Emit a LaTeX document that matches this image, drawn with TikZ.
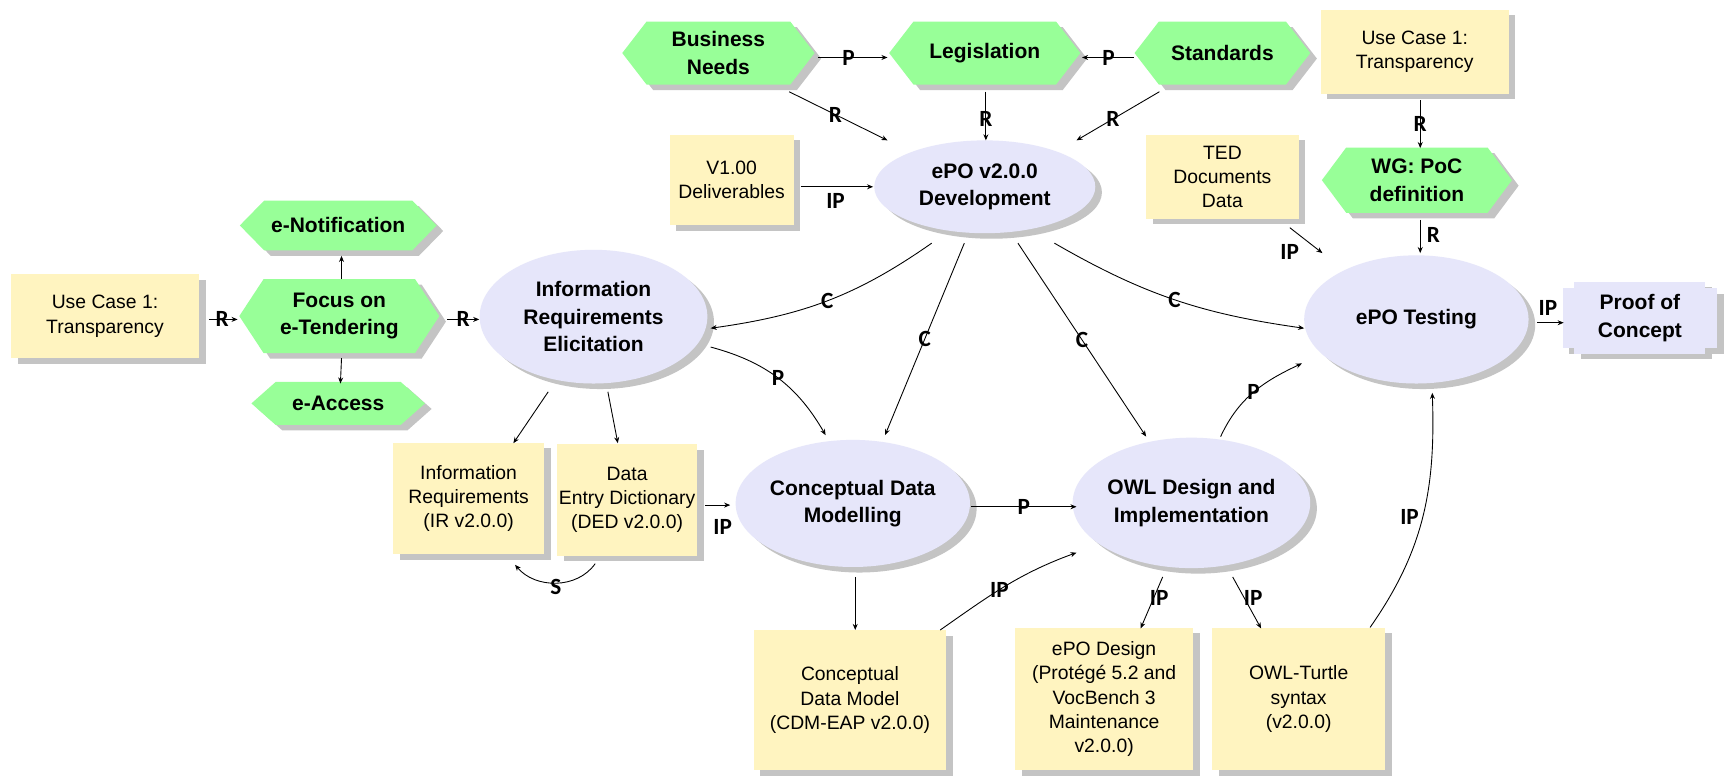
\documentclass[tikz,border=0pt]{standalone}
\usepackage{fontspec}
\setmainfont{Liberation Sans}
\newfontfamily\lblfont{Carlito}
\usetikzlibrary{shapes.geometric,shadows,arrows.meta,calc}
\definecolor{docyellow}{HTML}{FFF4C0}
\definecolor{evgreen}{HTML}{98FF98}
\definecolor{fnblue}{HTML}{E6E6FA}
\definecolor{shadowc}{HTML}{C4C4C4}
\tikzset{
  shad/.style={drop shadow={shadow xshift=6pt,shadow yshift=-5pt,opacity=1,fill=shadowc}},
  docbox/.style={rectangle,fill=docyellow,shad,inner sep=1pt,align=center,font=\fontsize{17.5pt}{22pt}\selectfont},
  fnell/.style={ellipse,fill=fnblue,shad,inner sep=0pt,align=center,font=\fontsize{19pt}{25pt}\selectfont\bfseries},
  hexlabel/.style={rectangle,inner sep=0pt,align=center,font=\fontsize{19pt}{25pt}\selectfont\bfseries},
  hexfill/.style={fill=evgreen},
  hexshade/.style={fill=shadowc},
  pocfill/.style={fill=fnblue},
  conn/.style={draw=black,line width=0.8pt,-{Stealth[length=5.5pt,width=4.5pt]}},
  lbl/.style={font=\lblfont\bfseries\fontsize{21pt}{21pt}\selectfont,inner sep=0pt},
}
\newcommand\hexpathdraw[3]{%
  \fill[#1,shift={(#2,#3)}] (\hxl,\hcy) -- ({\hxl+22},\hyt) -- ({\hxr-22},\hyt) -- (\hxr,\hcy) -- ({\hxr-22},\hyb) -- ({\hxl+22},\hyb) -- cycle;%
}
\newcommand\hexnode[6]{%
  \pgfmathsetmacro\hxl{#2-#4/2}%
  \pgfmathsetmacro\hxr{#2+#4/2}%
  \pgfmathsetmacro\hyt{#3-#5/2}%
  \pgfmathsetmacro\hyb{#3+#5/2}%
  \pgfmathsetmacro\hcy{#3}%
  \hexpathdraw{hexshade}{6}{5}%
  \hexpathdraw{hexfill}{0}{0}%
  \node[hexlabel,minimum width=#4pt,minimum height=#5pt] (#1) at (#2,#3) {#6};%
}
\begin{document}
\begin{tikzpicture}[x=1pt,y=-1pt]
\fill[white] (0,0) rectangle (1568,704.8);
\useasboundingbox (0,0) rectangle (1568,704.8);

% ---- hexagons (events)
\hexnode{bn}{650}{48}{174}{57}{Business\\Needs}
\hexnode{leg}{891}{48}{173}{57}{Legislation}
\hexnode{std}{1106}{48}{159}{57}{Standards}
\hexnode{wg}{1282}{163}{172}{59}{WG: PoC\\definition}
\hexnode{enot}{306}{204}{178}{45}{e-Notification}
\hexnode{focus}{307}{286}{181}{67}{Focus on\\e-Tendering}
\hexnode{eacc}{306}{365}{157}{39}{e-Access}

% ---- documents
\node[docbox,minimum width=170pt,minimum height=76pt] (ucl) at (95,286) {Use Case 1:\\Transparency};
\node[docbox,minimum width=170pt,minimum height=76pt] (uct) at (1280,47) {Use Case 1:\\Transparency};
\node[docbox,minimum width=112pt,minimum height=82pt] (v1) at (662,163) {V1.00\\Deliverables};
\node[docbox,minimum width=138pt,minimum height=76pt] (ted) at (1106,160) {TED\\Documents\\Data};
\node[docbox,minimum width=137pt,minimum height=101pt] (irbox) at (424,451) {Information\\Requirements\\(IR v2.0.0)};
\node[docbox,minimum width=127pt,minimum height=101pt] (ded) at (567.4,452.4) {Data\\Entry Dictionary\\(DED v2.0.0)};
\node[docbox,minimum width=174pt,minimum height=127pt] (cdmbox) at (769,633.5) {Conceptual\\Data Model\\(CDM-EAP v2.0.0)};
\node[docbox,minimum width=161pt,minimum height=129pt] (epod) at (999,632.5) {ePO Design\\(Protégé 5.2 and\\VocBench 3\\Maintenance\\v2.0.0)};
\node[docbox,minimum width=157pt,minimum height=129pt] (ttl) at (1175,632.5) {OWL-Turtle\\syntax\\(v2.0.0)};

% ---- functions
\node[fnell,minimum width=206pt,minimum height=121pt] (ire) at (537,286.5) {Information\\Requirements\\Elicitation};
\node[fnell,minimum width=200pt,minimum height=84pt] (epo) at (891,169) {ePO v2.0.0\\Development};
\node[fnell,minimum width=203pt,minimum height=116pt] (tst) at (1281.5,289) {ePO Testing};
\node[fnell,minimum width=204pt,minimum height=115pt] (cdm) at (771.6,455.5) {Conceptual Data\\Modelling};
\node[fnell,minimum width=204pt,minimum height=118pt] (owl) at (1078,455) {OWL Design and\\Implementation};

% ---- product
\fill[shadowc] (1430,260) rectangle (1549,325);
\fill[shadowc] (1420,266) rectangle (1559.6,320);
\fill[pocfill] (1424,255) rectangle (1543,320);
\fill[pocfill] (1414,261) rectangle (1553.6,315);
\node[hexlabel,minimum width=139.6pt,minimum height=65pt] (poc) at (1483.8,287.5) {Proof of\\Concept};

% ---- connectors
\draw[conn] ($(ucl)+(94,3)$) -- node[lbl,pos=.46]{R} ($(focus)+(-92,3)$);
\draw[conn] ($(focus)+(97.6,3)$) -- node[lbl,pos=.5]{R} ($(ire)+(-103.4,2.5)$);
\draw[conn] ($(focus)+(2,-34)$) -- ($(enot)+(3,27.5)$);
\draw[conn] ($(focus)+(2,38)$) -- ($(eacc)+(2,-18)$);
\draw[conn] ($(bn)+(90,4)$) -- node[lbl,pos=.44]{P} ($(leg)+(-88,4)$);
\draw[conn] ($(std)+(-80,4)$) -- node[lbl,pos=.49]{P} ($(leg)+(88,4)$);
\draw[conn] ($(bn)+(64,35)$) -- node[lbl,pos=.47]{R} ($(epo)+(-88,-42)$);
\draw[conn] ($(leg)+(1,35)$) -- node[lbl,pos=.55]{R} ($(epo)+(1,-42)$);
\draw[conn] ($(std)+(-57,35)$) -- node[lbl,pos=.56]{R} ($(epo)+(83,-42)$);
\draw[conn] ($(v1)+(62.6,6)$) -- node[lbl,pos=.48,yshift=-12.5pt]{IP} ($(epo)+(-101,0)$);
\draw[conn] ($(uct)+(5,43.5)$) -- node[lbl,pos=.49]{R} ($(wg)+(3,-29)$);
\draw[conn] ($(wg)+(3,36)$) -- node[lbl,pos=.45,xshift=12pt]{R} ($(tst)+(3.5,-60)$);
\draw[conn] ($(ted)+(61,46)$) -- node[lbl,pos=.4,xshift=-12pt,yshift=-13pt]{IP} ($(tst)+(-85,-60)$);
\draw[conn] ($(tst)+(109.5,3)$) -- node[lbl,pos=.4,yshift=13pt]{IP} ($(poc)+(-69,4.5)$);
\draw[conn] ($(epo)+(-48,51)$) to[out=215,in=8] node[lbl,pos=.5]{C} ($(ire)+(106,10.5)$);
\draw[conn] ($(epo)+(-18.5,51)$) -- node[lbl,pos=.5]{C} ($(cdm)+(29.2,-61.8)$);
\draw[conn] ($(epo)+(30,51)$) -- node[lbl,pos=.5]{C} ($(owl)+(-41,-60)$);
\draw[conn] ($(epo)+(63,51)$) to[out=-30,in=172] node[lbl,pos=.5]{C} ($(tst)+(-101.5,8)$);
\draw[conn] ($(ire)+(106,27.5)$) to[out=-15,in=120] node[lbl,pos=.5]{P} ($(cdm)+(-24.6,-61.8)$);
\draw[conn] ($(ire)+(-41,68)$) -- ($(irbox)+(40.5,-50)$);
\draw[conn] ($(ire)+(13,68)$) -- ($(ded)+(-8.4,-51.4)$);
\draw[conn] ($(ded)+(-28.9,57.6)$) to[out=235,in=-50] node[lbl,pos=.5,yshift=-4pt]{S} ($(irbox)+(42,60)$);
\draw[conn] ($(ded)+(70.6,4.6)$) -- node[lbl,pos=.7,yshift=-19.5pt]{IP} ($(cdm)+(-110.9,1.5)$);
\draw[conn] ($(cdm)+(107.2,3)$) -- node[lbl,pos=.5]{P} ($(owl)+(-104,3.5)$);
\draw[conn] ($(owl)+(26.4,-60)$) to[out=65,in=205] node[lbl,pos=.5]{P} ($(tst)+(-103.5,39.8)$);
\draw[conn] ($(cdm)+(2.2,66.5)$) -- ($(cdmbox)+(4.8,-63.5)$);
\draw[conn] ($(cdmbox)+(81.7,-63.5)$) to[out=35,in=200] node[lbl,pos=.45]{IP} ($(owl)+(-104,45)$);
\draw[conn] ($(owl)+(-26,67)$) -- node[lbl,pos=.41,xshift=5pt]{IP} ($(epod)+(33,-63.9)$);
\draw[conn] ($(owl)+(37.3,67)$) -- node[lbl,pos=.41,xshift=8pt]{IP} ($(ttl)+(-34,-63.9)$);
\draw[conn] ($(ttl)+(64.6,-64.8)$) to[out=55,in=-88] node[lbl,pos=.5,xshift=-12pt]{IP} ($(tst)+(14.4,66.4)$);
\end{tikzpicture}
\end{document}
